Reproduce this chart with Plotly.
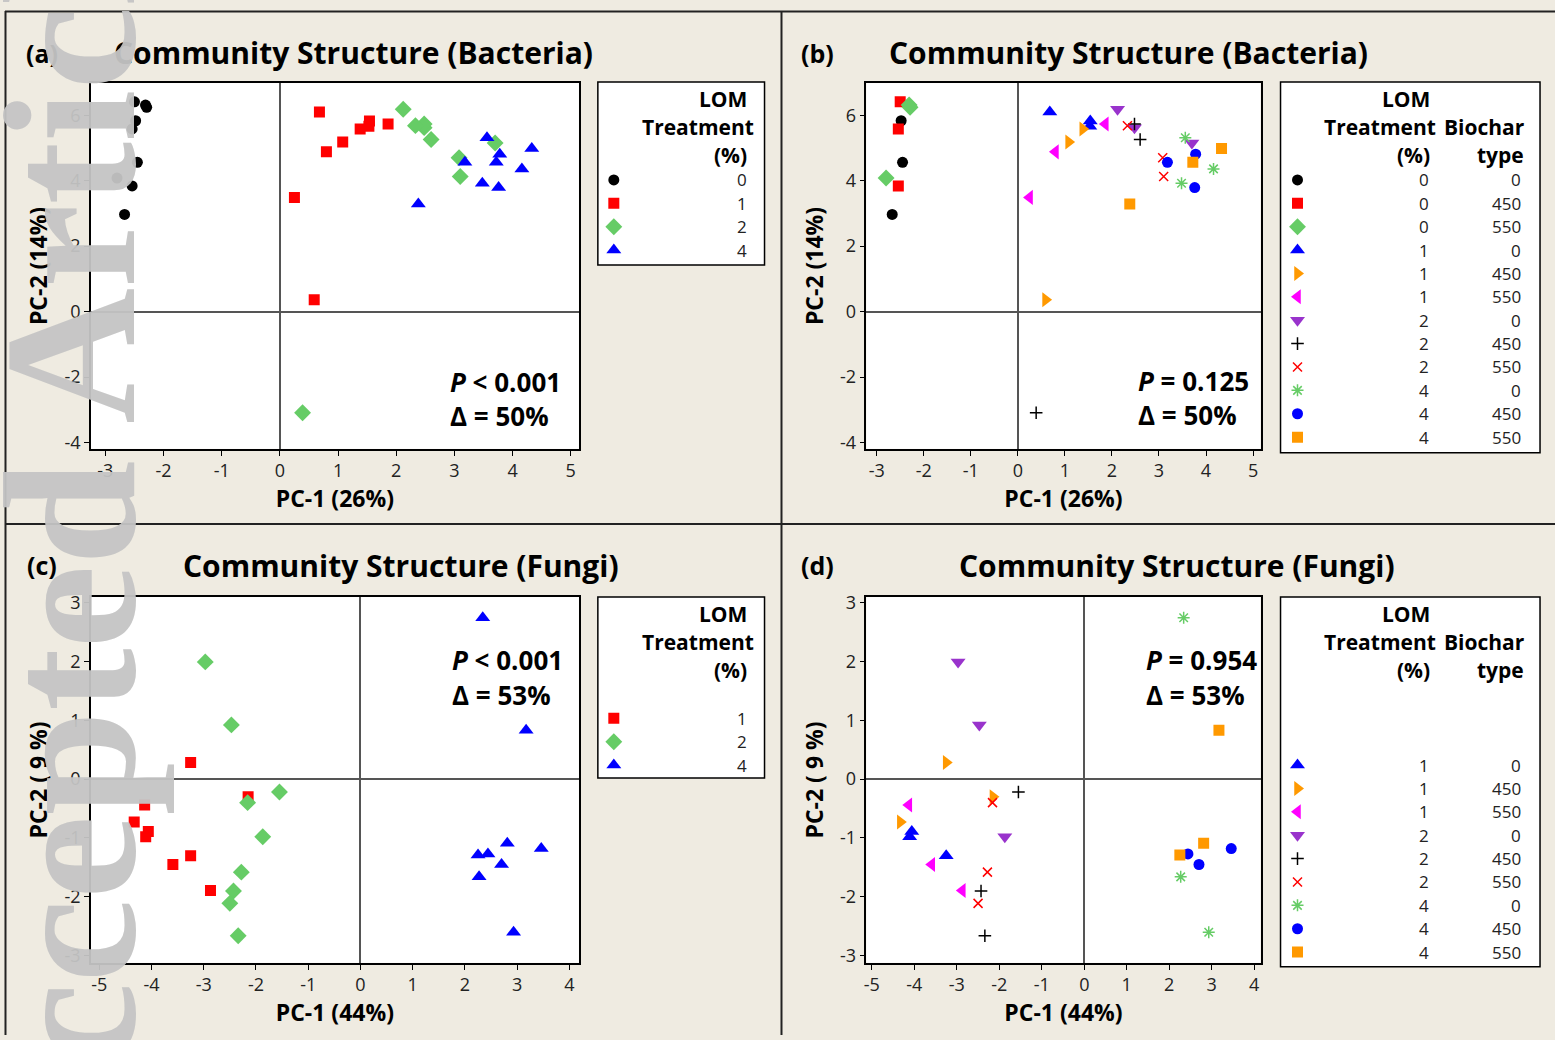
import plotly.graph_objects as go

# ------------------------------------------------------------------ data
# Bacteria PCA scores (panels a and b) by LOM treatment (%) and biochar type
bac_L0_B0_x = [-2.48, -2.45, -2.67]
bac_L0_B0_y = [5.83, 4.56, 2.97]
bac_L0_B450_x = [-2.50, -2.54, -2.54]
bac_L0_B450_y = [6.41, 5.58, 3.84]
bac_L0_B550_x = [-2.31, -2.29, -2.80]
bac_L0_B550_y = [6.31, 6.24, 4.08]
bac_L1_B0_x = [0.68, 1.54, 1.53]
bac_L1_B0_y = [6.10, 5.82, 5.66]
bac_L1_B450_x = [0.59, 1.08, 1.38]
bac_L1_B450_y = [0.36, 5.18, 5.58]
bac_L1_B550_x = [0.25, 0.80, 1.86]
bac_L1_B550_y = [3.49, 4.88, 5.73]
bac_L2_B0_x = [2.12, 2.48, 3.70]
bac_L2_B0_y = [6.18, 5.62, 5.15]
bac_L2_B450_x = [2.48, 2.60, 0.39]
bac_L2_B450_y = [5.73, 5.26, -3.09]
bac_L2_B550_x = [2.33, 3.08, 3.10]
bac_L2_B550_y = [5.68, 4.70, 4.13]
bac_L4_B0_x = [3.56, 3.48, 4.16]
bac_L4_B0_y = [5.31, 3.92, 4.36]
bac_L4_B450_x = [3.18, 3.78, 3.76]
bac_L4_B450_y = [4.56, 4.81, 3.79]
bac_L4_B550_x = [2.38, 3.72, 4.33]
bac_L4_B550_y = [3.29, 4.56, 4.98]

# Fungi PCA scores (panels c and d)
fun_L1_B0_x = [-4.06, -4.11, -3.25]
fun_L1_B0_y = [-0.89, -0.98, -1.30]
fun_L1_B450_x = [-3.25, -2.15, -4.33]
fun_L1_B450_y = [0.28, -0.30, -0.73]
fun_L1_B550_x = [-4.13, -3.59, -2.87]
fun_L1_B550_y = [-0.44, -1.45, -1.89]
fun_L2_B0_x = [-2.97, -2.47, -1.87]
fun_L2_B0_y = [1.99, 0.92, -0.98]
fun_L2_B450_x = [-1.55, -2.43, -2.34]
fun_L2_B450_y = [-0.22, -1.90, -2.66]
fun_L2_B550_x = [-2.16, -2.28, -2.50]
fun_L2_B550_y = [-0.40, -1.58, -2.11]
fun_L4_B0_x = [2.34, 2.27, 2.93]
fun_L4_B0_y = [2.74, -1.66, -2.60]
fun_L4_B450_x = [2.44, 2.70, 3.46]
fun_L4_B450_y = [-1.27, -1.45, -1.18]
fun_L4_B550_x = [3.17, 2.81, 2.25]
fun_L4_B550_y = [0.83, -1.09, -1.29]

lom_levels = [0, 1, 2, 4]
biochar_levels = [0, 450, 550]

bacteria = {
    (0, 0): (bac_L0_B0_x, bac_L0_B0_y), (0, 450): (bac_L0_B450_x, bac_L0_B450_y),
    (0, 550): (bac_L0_B550_x, bac_L0_B550_y), (1, 0): (bac_L1_B0_x, bac_L1_B0_y),
    (1, 450): (bac_L1_B450_x, bac_L1_B450_y), (1, 550): (bac_L1_B550_x, bac_L1_B550_y),
    (2, 0): (bac_L2_B0_x, bac_L2_B0_y), (2, 450): (bac_L2_B450_x, bac_L2_B450_y),
    (2, 550): (bac_L2_B550_x, bac_L2_B550_y), (4, 0): (bac_L4_B0_x, bac_L4_B0_y),
    (4, 450): (bac_L4_B450_x, bac_L4_B450_y), (4, 550): (bac_L4_B550_x, bac_L4_B550_y),
}
fungi = {
    (1, 0): (fun_L1_B0_x, fun_L1_B0_y), (1, 450): (fun_L1_B450_x, fun_L1_B450_y),
    (1, 550): (fun_L1_B550_x, fun_L1_B550_y), (2, 0): (fun_L2_B0_x, fun_L2_B0_y),
    (2, 450): (fun_L2_B450_x, fun_L2_B450_y), (2, 550): (fun_L2_B550_x, fun_L2_B550_y),
    (4, 0): (fun_L4_B0_x, fun_L4_B0_y), (4, 450): (fun_L4_B450_x, fun_L4_B450_y),
    (4, 550): (fun_L4_B550_x, fun_L4_B550_y),
}

bac_xticks = [-3, -2, -1, 0, 1, 2, 3, 4, 5]
bac_yticks = [-4, -2, 0, 2, 4, 6]
fun_xticks = [-5, -4, -3, -2, -1, 0, 1, 2, 3, 4]
fun_yticks = [-3, -2, -1, 0, 1, 2, 3]

# ------------------------------------------------------------------ style
W, H = 1555, 1040
def fx(p):
    return p / W
def fy(p):
    return 1 - p / H

FONT = "Open Sans, DejaVu Sans, Arial, sans-serif"
BG = "#EFEBE1"

LOM_STYLE = {
    0: ("circle", "#000000", 11),
    1: ("square", "#FF0000", 11),
    2: ("diamond", "#66CC66", 13),
    4: ("triangle-up", "#0000FF", 13),
}
COMBO_STYLE = {
    (0, 0): ("circle", "#000000", 11),
    (0, 450): ("square", "#FF0000", 11),
    (0, 550): ("diamond", "#66CC66", 13),
    (1, 0): ("triangle-up", "#0000FF", 13),
    (1, 450): ("triangle-right", "#FF9900", 13),
    (1, 550): ("triangle-left", "#FF00FF", 13),
    (2, 0): ("triangle-down", "#9933CC", 13),
    (2, 450): ("cross-thin", "#000000", 9),
    (2, 550): ("x-thin", "#FF0000", 9),
    (4, 0): ("asterisk", "#66CC66", 10),
    (4, 450): ("circle", "#0000FF", 11),
    (4, 550): ("square", "#FF9900", 11),
}

def marker(style):
    sym, col, size = style
    if sym in ("cross-thin", "x-thin", "asterisk"):
        return dict(symbol=sym, size=size, color=col, line=dict(color=col, width=1.5))
    return dict(symbol=sym, size=size, color=col, line=dict(width=0))

fig = go.Figure()

# panel geometry (pixels)
P = {
    "a": dict(ax="", box=(88, 77, 577, 447), xr=[-3.25, 5.14], yr=[-4.19, 6.98],
              xt=bac_xticks, yt=bac_yticks, xtitle="PC-1 (26%)", ytitle="PC-2 (14%)"),
    "b": dict(ax="2", box=(865, 77, 1260, 447), xr=[-3.22, 5.16], yr=[-4.19, 6.98],
              xt=bac_xticks, yt=bac_yticks, xtitle="PC-1 (26%)", ytitle="PC-2 (14%)"),
    "c": dict(ax="3", box=(88, 597, 577, 967), xr=[-5.16, 4.18], yr=[-3.12, 3.09],
              xt=fun_xticks, yt=fun_yticks, xtitle="PC-1 (44%)", ytitle="PC-2 ( 9 %)"),
    "d": dict(ax="4", box=(865, 597, 1260, 967), xr=[-5.13, 4.15], yr=[-3.12, 3.09],
              xt=fun_xticks, yt=fun_yticks, xtitle="PC-1 (44%)", ytitle="PC-2 ( 9 %)"),
}
# legend boxes (pixels) and legend axes
LEG = {
    "a": dict(ax="5", box=(596, 76, 763, 261)),
    "b": dict(ax="6", box=(1280, 76, 1540, 451)),
    "c": dict(ax="7", box=(596, 597, 763, 780)),
    "d": dict(ax="8", box=(1280, 597, 1540, 971)),
}
ROW0, ROWSTEP = 99, 23.65

layout_axes = {}
for k, p in P.items():
    x0, y0, x1, y1 = p["box"]
    ax = p["ax"]
    layout_axes["xaxis" + ax] = dict(
        domain=[fx(x0), fx(x1)], range=p["xr"], anchor="y" + ax,
        tickvals=p["xt"], ticktext=[str(v) for v in p["xt"]],
        showline=True, linecolor="#000", linewidth=1.5, mirror=True,
        ticks="outside", ticklen=5, tickcolor="#000", tickwidth=1,
        showgrid=False, zeroline=True, zerolinecolor="#555", zerolinewidth=1.6,
        tickfont=dict(family=FONT, size=18, color="#222"),
        title=dict(text=p["xtitle"], font=dict(family=FONT, size=23, color="#000", weight="bold"), standoff=0),
    )
    layout_axes["yaxis" + ax] = dict(
        domain=[fy(y1), fy(y0)], range=p["yr"], anchor="x" + ax,
        tickvals=p["yt"], ticktext=[str(v) for v in p["yt"]],
        showline=True, linecolor="#000", linewidth=1.5, mirror=True,
        ticks="outside", ticklen=5, tickcolor="#000", tickwidth=1,
        showgrid=False, zeroline=True, zerolinecolor="#555", zerolinewidth=1.6,
        tickfont=dict(family=FONT, size=18, color="#222"),
        title=dict(text=p["ytitle"], font=dict(family=FONT, size=23, color="#000", weight="bold"), standoff=10),
    )
for k, l in LEG.items():
    x0, y0, x1, y1 = l["box"]
    ax = l["ax"]
    layout_axes["xaxis" + ax] = dict(domain=[fx(x0), fx(x1)], range=[0, x1 - x0],
                                     anchor="y" + ax, visible=False, fixedrange=True)
    layout_axes["yaxis" + ax] = dict(domain=[fy(y1), fy(y0)], range=[y1 - y0, 0],
                                     anchor="x" + ax, visible=False, fixedrange=True)

# ---- panel a: bacteria by LOM
for lom in lom_levels:
    xs, ys = [], []
    for bc in biochar_levels:
        if (lom, bc) in bacteria:
            xs += bacteria[(lom, bc)][0]
            ys += bacteria[(lom, bc)][1]
    fig.add_trace(go.Scatter(x=xs, y=ys, mode="markers", marker=marker(LOM_STYLE[lom]),
                             name=f"LOM {lom}%", xaxis="x", yaxis="y", showlegend=False))
# ---- panel b: bacteria by LOM x biochar
for key, (xs, ys) in bacteria.items():
    fig.add_trace(go.Scatter(x=xs, y=ys, mode="markers", marker=marker(COMBO_STYLE[key]),
                             name=f"LOM {key[0]}%, biochar {key[1]}", xaxis="x2", yaxis="y2",
                             showlegend=False))
# ---- panel c: fungi by LOM
for lom in lom_levels:
    xs, ys = [], []
    for bc in biochar_levels:
        if (lom, bc) in fungi:
            xs += fungi[(lom, bc)][0]
            ys += fungi[(lom, bc)][1]
    if xs:
        fig.add_trace(go.Scatter(x=xs, y=ys, mode="markers", marker=marker(LOM_STYLE[lom]),
                                 name=f"LOM {lom}%", xaxis="x3", yaxis="y3", showlegend=False))
# ---- panel d: fungi by LOM x biochar
for key, (xs, ys) in fungi.items():
    fig.add_trace(go.Scatter(x=xs, y=ys, mode="markers", marker=marker(COMBO_STYLE[key]),
                             name=f"LOM {key[0]}%, biochar {key[1]}", xaxis="x4", yaxis="y4",
                             showlegend=False))

annotations = []
shapes = []

def ann(text, x, y, size, xanchor="center", bold=False, color="#000", family=FONT, **kw):
    annotations.append(dict(text=text, x=fx(x), y=fy(y), xref="paper", yref="paper",
                            xanchor=xanchor, yanchor="middle", showarrow=False,
                            font=dict(family=family, size=size, color=color,
                                      weight="bold" if bold else "normal"), **kw))

# ---- legends
all_combos = [(l, b) for l in lom_levels for b in biochar_levels]
for k, l in LEG.items():
    x0, y0, x1, y1 = l["box"]
    ax = l["ax"]
    shapes.append(dict(type="rect", xref="paper", yref="paper", x0=fx(x0), x1=fx(x1),
                       y0=fy(y1), y1=fy(y0), line=dict(color="#000", width=1.5),
                       fillcolor="white", layer="below"))
    two_col = k in ("b", "d")
    if not two_col:
        ann("LOM", x0 + 151, y0 + 17, 21, "right", True)
        ann("Treatment", x0 + 158, y0 + 45, 21, "right", True)
        ann("(%)", x0 + 151, y0 + 74, 21, "right", True)
        data = bacteria if k == "a" else fungi
        for slot, lom in enumerate(lom_levels):
            if not any(kk[0] == lom for kk in data):
                continue
            ry = ROW0 + slot * ROWSTEP
            fig.add_trace(go.Scatter(x=[16], y=[ry], mode="markers", marker=marker(LOM_STYLE[lom]),
                                     xaxis="x" + ax, yaxis="y" + ax, showlegend=False,
                                     hoverinfo="skip"))
            ann(str(lom), x0 + 151, y0 + ry, 17, "right", color="#222")
    else:
        ann("LOM", x0 + 152, y0 + 17, 21, "right", True)
        ann("Treatment", x0 + 158, y0 + 45, 21, "right", True)
        ann("(%)", x0 + 152, y0 + 74, 21, "right", True)
        ann("Biochar", x0 + 247, y0 + 45, 21, "right", True)
        ann("type", x0 + 246, y0 + 74, 21, "right", True)
        data = bacteria if k == "b" else fungi
        for slot, key in enumerate(all_combos):
            if key not in data:
                continue
            ry = ROW0 + slot * ROWSTEP
            fig.add_trace(go.Scatter(x=[17], y=[ry], mode="markers", marker=marker(COMBO_STYLE[key]),
                                     xaxis="x" + ax, yaxis="y" + ax, showlegend=False,
                                     hoverinfo="skip"))
            ann(str(key[0]), x0 + 151, y0 + ry, 17, "right", color="#222")
            ann(str(key[1]), x0 + 243, y0 + ry, 17, "right", color="#222")

# ---- titles
ann("(a)", 39, 47, 25, bold=True)
ann("Community Structure (Bacteria)", 351, 46, 30, bold=True)
ann("(b)", 816, 47, 25, bold=True)
ann("Community Structure (Bacteria)", 1128, 46, 30, bold=True)
ann("(c)", 39, 565, 25, bold=True)
ann("Community Structure (Fungi)", 399, 565, 30, bold=True)
ann("(d)", 816, 565, 25, bold=True)
ann("Community Structure (Fungi)", 1176, 565, 30, bold=True)

# ---- statistics
ann("<i>P</i> < 0.001", 446, 379, 26, "left", True)
ann("Δ = 50%", 446, 414, 26, "left", True)
ann("<i>P</i> = 0.125", 1135, 378, 26, "left", True)
ann("Δ = 50%", 1135, 413, 26, "left", True)
ann("<i>P</i> < 0.001", 448, 661, 26, "left", True)
ann("Δ = 53%", 448, 696, 26, "left", True)
ann("<i>P</i> = 0.954", 1143, 661, 26, "left", True)
ann("Δ = 53%", 1143, 696, 26, "left", True)

# ---- frame / divider lines
line = dict(color="#222", width=2)
shapes += [
    dict(type="line", xref="paper", yref="paper", x0=fx(2), x1=1, y0=fy(4.5), y1=fy(4.5), line=line),
    dict(type="line", xref="paper", yref="paper", x0=fx(2.5), x1=fx(2.5), y0=0, y1=fy(4), line=line),
    dict(type="line", xref="paper", yref="paper", x0=fx(780), x1=fx(780), y0=0, y1=fy(4), line=line),
    dict(type="line", xref="paper", yref="paper", x0=fx(2), x1=1, y0=fy(523), y1=fy(523), line=line),
]

# ---- journal watermark (rotated, runs off the page as in the source)
annotations.append(dict(text="<b>Accepted Article</b>", x=fx(68), y=fy(535), xref="paper", yref="paper",
                        xanchor="center", yanchor="middle", showarrow=False, textangle=-90,
                        font=dict(family="Liberation Serif, DejaVu Serif, serif", size=188,
                                  color="rgba(196,196,196,0.95)")))

fig.update_layout(
    width=W, height=H, margin=dict(l=0, r=0, t=0, b=0),
    paper_bgcolor=BG, plot_bgcolor="white",
    font=dict(family=FONT, color="#000"),
    showlegend=False,
    annotations=annotations, shapes=shapes,
    **layout_axes,
)

fig.write_html("out.html")
